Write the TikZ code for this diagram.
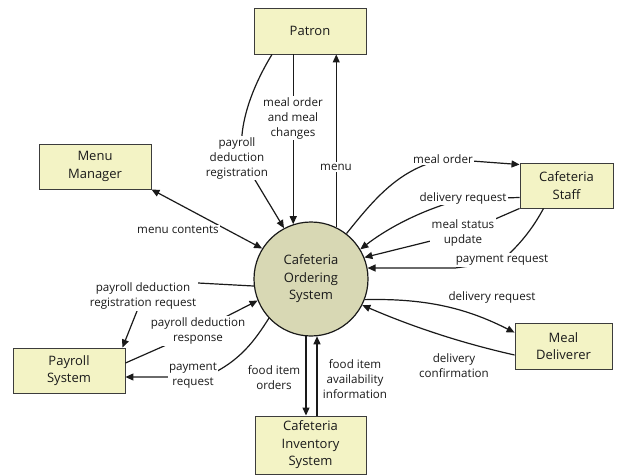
\documentclass[tikz,border=0pt]{standalone}
\usepackage{fontspec}
\setmainfont{Open Sans}
\usetikzlibrary{arrows.meta,calc}
\definecolor{boxfill}{HTML}{F3F3C5}
\definecolor{circfill}{HTML}{D8D8B4}
\definecolor{ink}{HTML}{1A1A1A}
\tikzset{
  ent/.style={draw=ink!85,line width=0.9pt,fill=boxfill,align=center,inner sep=0pt,
    font=\fontsize{13}{17.5}\selectfont,text=ink},
  proc/.style={circle,draw=ink,line width=1.2pt,fill=circfill,align=center,inner sep=0pt,
    minimum size=114pt,font=\fontsize{13}{17.5}\selectfont,text=ink},
  flow/.style={draw=ink,line width=1.2pt,-{Triangle[length=8pt,width=7pt]}},
  bflow/.style={draw=ink,line width=1.2pt,{Triangle[length=8pt,width=7pt]}-{Triangle[length=8pt,width=7pt]}},
  lbl/.style={fill=white,inner sep=1.5pt,align=center,text=ink,
    font=\fontsize{11.6}{15}\selectfont}
}
\begin{document}
\begin{tikzpicture}[x=1pt,y=-1pt]
\useasboundingbox (0,0) rectangle (620,474);
% entities
\node[ent,minimum width=112pt,minimum height=46pt] (patron) at (310,31) {Patron};
\node[ent,minimum width=112pt,minimum height=45pt] (menuman) at (95,166.5) {Menu\\Manager};
\node[ent,minimum width=93pt,minimum height=45pt] (staff) at (566.5,185.5) {Cafeteria\\Staff};
\node[ent,minimum width=112pt,minimum height=45pt] (payroll) at (69,370.5) {Payroll\\System};
\node[ent,minimum width=97pt,minimum height=46pt] (deliv) at (563.5,346) {Meal\\Deliverer};
\node[ent,minimum width=111pt,minimum height=58pt] (inv) at (310.5,445) {Cafeteria\\Inventory\\System};
\node[proc] (cos) at (311,279) {Cafeteria\\Ordering\\System};
% connectors
\draw[flow] (cos.108.4 |- patron.south) -- (cos.108.4);
\draw[flow] (cos.64) -- (cos.64 |- patron.south);
\draw[flow] ([xshift=-38pt]patron.south) .. controls +(-22,36) and +(-6,-30) .. (243,160) -- (cos.118);
\draw[bflow] (menuman.south east) -- (cos.148);
\draw[flow] (cos.52) .. controls (375,198) and (400,168) .. (445,159) -- ([yshift=-2pt]staff.north west);
\draw[flow] ([yshift=-12pt]staff.west) -- (463,199) .. controls (420,210) and (385,230) .. (cos.31);
\draw[flow] (staff.south west) -- (463,233) -- (cos.22);
\draw[flow] ([xshift=-23pt]staff.south) .. controls (533,228) and (520,245) .. (500,262) -- (455,268) -- (cos.11);
\draw[flow] (cos.-21) .. controls (430,298) and (470,310) .. ([yshift=-10pt]deliv.north west);
\draw[flow] ([yshift=-9pt]deliv.west) .. controls (470,345) and (420,330) .. (cos.-27);
\draw[flow] (cos.-95) -- (cos.-95 |- inv.north);
\draw[flow] (cos.-84 |- inv.north) -- (cos.-84);
\draw[flow] (cos.187) -- (198,283) -- (143,296) -- ([xshift=-3pt]payroll.north east);
\draw[flow] ([yshift=7.5pt]payroll.east) -- (198,331) -- (cos.202.5);
\draw[flow] (cos.223) .. controls (255,340) and (240,362) .. (205,377) -- ([yshift=-6.5pt]payroll.east);
% labels
\node[lbl] (l1) at (293,118) {meal order\\and meal\\changes};
\node[lbl] (l2) at (336,167) {menu};
\node[lbl] (l3) at (237,158) {payroll\\deduction\\registration};
\node[lbl] (l4) at (178,230) {menu contents};
\node[lbl] (l5) at (443,159) {meal order};
\node[lbl] (l6) at (463,198) {delivery request};
\node[lbl] (l7) at (463,233) {meal status\\update};
\node[lbl] (l8) at (502,260) {payment request};
\node[lbl] (l9) at (492,297) {delivery request};
\node[lbl] (l10) at (454,366) {delivery\\confirmation};
\node[lbl] (l11) at (274,378) {food item\\orders};
\node[lbl] (l12) at (355,379) {food item\\availability\\information};
\node[lbl] (l13) at (143,296) {payroll deduction\\registration request};
\node[lbl] (l14) at (198,331) {payroll deduction\\response};
\node[lbl] (l15) at (193,376) {payment\\request};
\end{tikzpicture}
\end{document}
